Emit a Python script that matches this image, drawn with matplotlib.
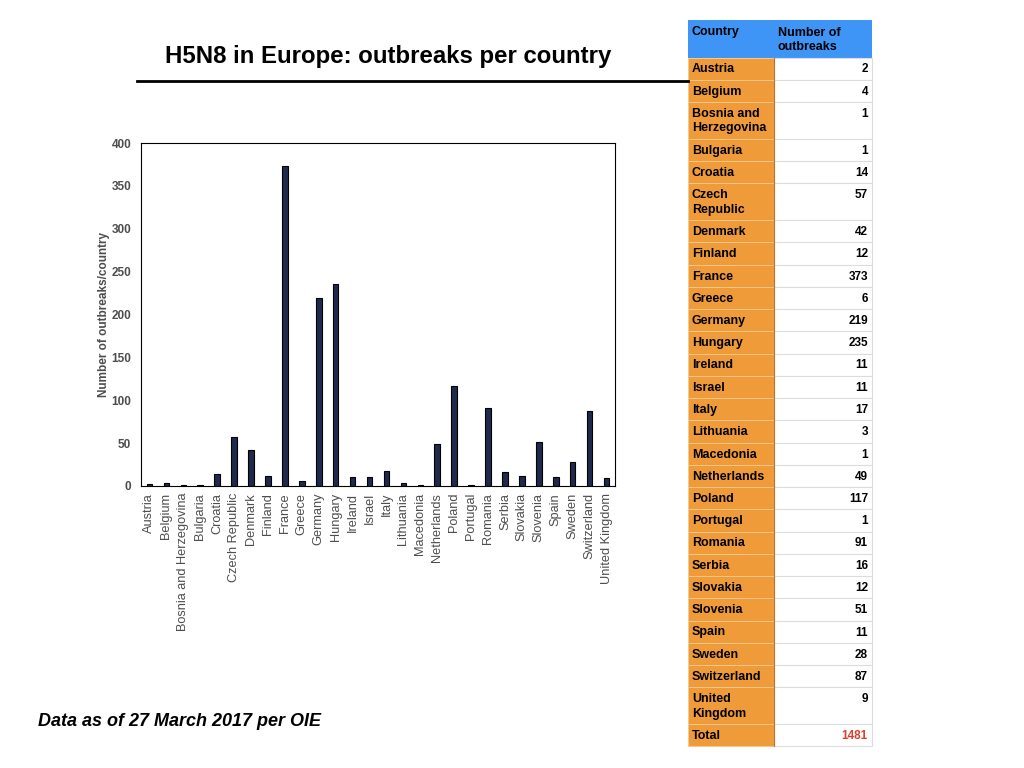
import matplotlib
matplotlib.use("Agg")
import matplotlib.pyplot as plt
from matplotlib.patches import Rectangle

plt.rcParams['font.family'] = ['Liberation Sans', 'DejaVu Sans']

COUNTRIES = ['Austria', 'Belgium', 'Bosnia and Herzegovina', 'Bulgaria', 'Croatia',
             'Czech Republic', 'Denmark', 'Finland', 'France', 'Greece', 'Germany',
             'Hungary', 'Ireland', 'Israel', 'Italy', 'Lithuania', 'Macedonia',
             'Netherlands', 'Poland', 'Portugal', 'Romania', 'Serbia', 'Slovakia',
             'Slovenia', 'Spain', 'Sweden', 'Switzerland', 'United Kingdom']
OUTBREAKS = [2, 4, 1, 1, 14, 57, 42, 12, 373, 6, 219, 235, 11, 11, 17, 3, 1,
             49, 117, 1, 91, 16, 12, 51, 11, 28, 87, 9]
TOTAL = 1481
# how the names wrap inside the table
TABLE_NAMES = {'Bosnia and Herzegovina': 'Bosnia and\nHerzegovina',
               'Czech Republic': 'Czech\nRepublic',
               'United Kingdom': 'United\nKingdom'}

BAR_COLOR = '#1f2b4e'
GREY_TEXT = '#4d4d4d'
ORANGE = '#f09b3a'
BLUE = '#3f95f5'

W, H = 1024, 768
fig = plt.figure(figsize=(W / 100, H / 100), dpi=100)

# bar chart
ax = fig.add_axes([141 / W, 1 - 486 / H, 474 / W, 343 / H])
x = range(len(COUNTRIES))
ax.bar(x, OUTBREAKS, width=0.33, color=BAR_COLOR, edgecolor='black', linewidth=0.8)
ax.set_xlim(-0.5, len(COUNTRIES) - 0.5)
ax.set_ylim(0, 400)
ax.set_yticks(range(0, 401, 50))
ax.set_xticks(list(x))
ax.set_xticklabels(COUNTRIES, rotation=90, fontsize=9.2, color=GREY_TEXT)
for lbl in ax.get_yticklabels():
    lbl.set_fontweight('bold')
    lbl.set_color(GREY_TEXT)
    lbl.set_fontsize(8.5)
ax.tick_params(axis='x', length=0, pad=5)
ax.tick_params(axis='y', length=0, pad=7)
ax.set_ylabel('Number of outbreaks/country', fontsize=8.5, fontweight='bold',
              color=GREY_TEXT, labelpad=1)
for sp in ax.spines.values():
    sp.set_linewidth(0.8)

# overlay in pixel coordinates for title, rule, table and footer
ov = fig.add_axes([0, 0, 1, 1], zorder=5)
ov.set_xlim(0, W)
ov.set_ylim(H, 0)
ov.axis('off')
ov.patch.set_alpha(0)

ov.text(388, 56, 'H5N8 in Europe: outbreaks per country', fontsize=17.3,
        fontweight='bold', ha='center', va='center')
ov.plot([137, 688], [80.5, 80.5], color='black', lw=2)
ov.text(38, 721, 'Data as of 27 March 2017 per OIE', fontsize=13,
        fontweight='bold', fontstyle='italic', ha='left', va='center')

# table
x0, x1, x2 = 688, 774, 872
top = 20
hdr_h = 37.5
ov.add_patch(Rectangle((x0, top), x2 - x0, hdr_h, facecolor=BLUE, edgecolor='none'))
ov.text(x0 + 4, top + 6.5, 'Country', fontsize=9, fontweight='bold', va='top')
ov.text(x1 + 4, top + 6.5, 'Number of\noutbreaks', fontsize=9, fontweight='bold',
        va='top', linespacing=1.25)

rows = [(TABLE_NAMES.get(c, c), str(v), 'black') for c, v in zip(COUNTRIES, OUTBREAKS)]
rows.append(('Total', str(TOTAL), '#d6422c'))

y = top + hdr_h
for name, val, vcol in rows:
    h = 36.75 if '\n' in name else 22.25
    ov.add_patch(Rectangle((x0, y), x1 - x0, h, facecolor=ORANGE,
                           edgecolor='#f6c98f', lw=0.6))
    ov.add_patch(Rectangle((x1, y), x2 - x1, h, facecolor='white',
                           edgecolor='#dcdcdc', lw=0.8))
    ov.text(x0 + 4, y + 6, name, fontsize=9, fontweight='bold', va='top',
            linespacing=1.25)
    ov.text(x2 - 4, y + 6, val, fontsize=8.5, fontweight='bold', va='top',
            ha='right', color=vcol)
    y += h
ov.plot([x1, x1], [top + hdr_h, y], color='#b8732a', lw=0.8)

fig.savefig('out.png', dpi=100)
